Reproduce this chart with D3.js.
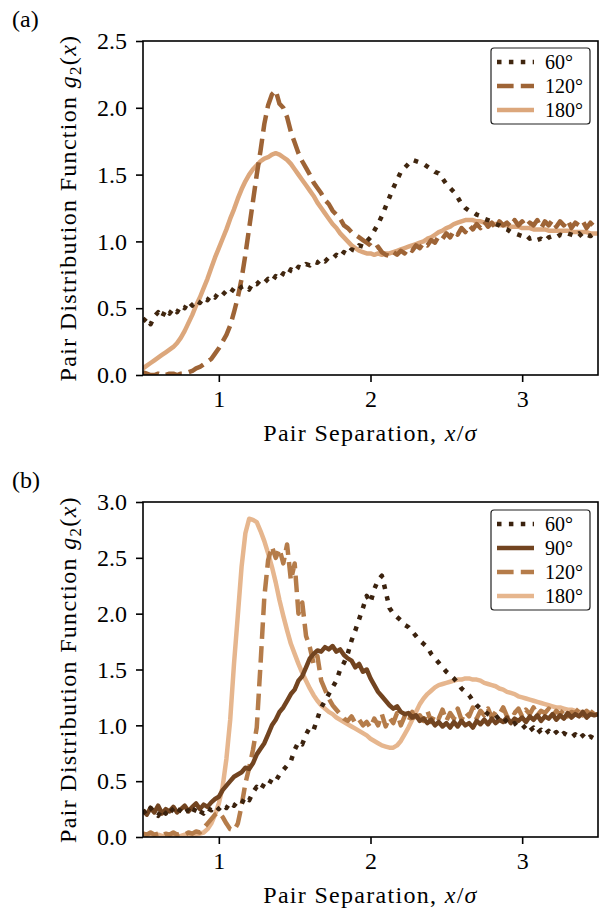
<!DOCTYPE html>
<html>
<head>
<meta charset="utf-8">
<script src="https://cdn.jsdelivr.net/npm/d3@7"></script>
<style>
  body { margin: 0; background: #fff; }
  text { font-family: "Liberation Serif", "Times New Roman", serif; fill: #000; }
</style>
</head>
<body>
<svg id="fig" width="601" height="911"></svg>
<script>
// every trace is sampled on the same grid, x/sigma = 0.5 ... 3.5, step 0.025
const sep = d3.range(121).map(i => 0.5 + 0.025 * i);

// panel (a)
const a60 = [
  0.40,0.43,0.38,0.44,0.47,0.43,0.49,0.46,0.50,0.47,
  0.52,0.50,0.55,0.52,0.56,0.54,0.58,0.56,0.60,0.58,
  0.62,0.60,0.63,0.61,0.65,0.63,0.66,0.67,0.64,0.69,
  0.68,0.71,0.69,0.72,0.70,0.74,0.72,0.76,0.74,0.79,
  0.77,0.81,0.80,0.83,0.82,0.85,0.84,0.87,0.85,0.88,
  0.87,0.90,0.88,0.92,0.90,0.94,0.93,0.97,0.96,1.00,
  1.03,1.08,1.13,1.19,1.26,1.33,1.40,1.46,1.52,1.55,
  1.58,1.61,1.60,1.59,1.58,1.56,1.54,1.52,1.51,1.47,
  1.43,1.40,1.37,1.33,1.28,1.25,1.23,1.22,1.20,1.19,
  1.17,1.16,1.15,1.13,1.12,1.10,1.09,1.07,1.06,1.05,
  1.04,1.05,1.02,1.03,1.01,1.02,1.00,1.03,1.04,1.03,
  1.05,1.04,1.06,1.05,1.04,1.06,1.03,1.05,1.04,1.06,
  1.05
];
const a120 = [
  0.02,0.01,0.00,0.00,0.01,0.00,0.00,0.01,0.01,0.00,
  0.01,0.01,0.02,0.03,0.05,0.06,0.08,0.10,0.12,0.16,
  0.20,0.25,0.30,0.37,0.47,0.58,0.72,0.90,1.10,1.30,
  1.50,1.68,1.88,2.02,2.10,2.13,2.03,2.00,1.93,1.82,
  1.74,1.66,1.60,1.55,1.50,1.44,1.40,1.36,1.31,1.28,
  1.23,1.20,1.17,1.12,1.10,1.07,1.05,1.03,1.01,0.99,
  0.97,0.94,0.96,0.92,0.90,0.89,0.92,0.90,0.93,0.91,
  0.95,0.93,0.97,0.95,0.99,0.97,1.01,0.99,1.04,1.02,
  1.06,1.03,1.08,1.05,1.10,1.07,1.12,1.09,1.13,1.10,
  1.15,1.11,1.14,1.10,1.15,1.12,1.14,1.11,1.16,1.12,
  1.15,1.11,1.14,1.12,1.16,1.10,1.15,1.12,1.16,1.11,
  1.15,1.12,1.16,1.10,1.14,1.12,1.15,1.10,1.14,1.11,
  1.13
];
const a180 = [
  0.05,0.07,0.09,0.11,0.13,0.15,0.17,0.19,0.21,0.24,
  0.28,0.33,0.39,0.45,0.52,0.58,0.65,0.72,0.80,0.88,
  0.95,1.02,1.09,1.17,1.24,1.32,1.39,1.45,1.50,1.54,
  1.57,1.60,1.62,1.63,1.65,1.66,1.65,1.63,1.61,1.58,
  1.54,1.50,1.46,1.42,1.38,1.34,1.29,1.25,1.21,1.17,
  1.13,1.10,1.06,1.03,1.00,0.97,0.95,0.93,0.92,0.91,
  0.91,0.90,0.91,0.90,0.91,0.91,0.92,0.93,0.94,0.95,
  0.96,0.97,0.98,0.99,1.00,1.02,1.03,1.05,1.07,1.08,
  1.10,1.11,1.13,1.14,1.15,1.16,1.16,1.16,1.15,1.15,
  1.14,1.14,1.13,1.13,1.12,1.12,1.12,1.11,1.11,1.11,
  1.10,1.10,1.10,1.09,1.09,1.09,1.09,1.08,1.08,1.08,
  1.08,1.08,1.08,1.07,1.07,1.07,1.07,1.07,1.06,1.06,
  1.06
];

// panel (b)
const b60 = [
  0.24,0.20,0.26,0.22,0.19,0.25,0.21,0.27,0.23,0.20,
  0.26,0.22,0.24,0.20,0.27,0.23,0.21,0.26,0.24,0.28,
  0.25,0.29,0.26,0.31,0.28,0.32,0.30,0.36,0.33,0.40,
  0.45,0.42,0.48,0.46,0.52,0.50,0.56,0.60,0.64,0.68,
  0.78,0.85,0.83,0.92,0.98,0.96,1.06,1.16,1.22,1.28,
  1.34,1.40,1.50,1.56,1.64,1.76,1.85,1.95,2.05,2.16,
  2.10,2.22,2.30,2.34,2.20,2.05,2.00,1.97,1.94,1.90,
  1.88,1.84,1.80,1.76,1.73,1.70,1.64,1.60,1.56,1.52,
  1.48,1.45,1.42,1.38,1.33,1.30,1.27,1.22,1.18,1.15,
  1.13,1.10,1.08,1.09,1.05,1.07,1.03,1.00,1.02,0.98,
  0.97,1.00,0.95,0.98,0.93,0.96,0.92,0.95,0.91,0.94,
  0.90,0.93,0.91,0.89,0.92,0.88,0.91,0.87,0.90,0.88,
  0.89
];
const b90 = [
  0.24,0.20,0.26,0.22,0.28,0.21,0.25,0.23,0.27,0.22,
  0.25,0.28,0.23,0.27,0.30,0.25,0.29,0.27,0.31,0.34,
  0.36,0.42,0.46,0.50,0.54,0.56,0.58,0.62,0.61,0.66,
  0.74,0.79,0.84,0.92,1.00,1.05,1.12,1.16,1.22,1.28,
  1.32,1.40,1.44,1.52,1.60,1.64,1.67,1.66,1.70,1.68,
  1.71,1.66,1.68,1.63,1.60,1.58,1.52,1.55,1.48,1.50,
  1.42,1.36,1.30,1.26,1.22,1.18,1.15,1.17,1.12,1.10,
  1.11,1.07,1.09,1.04,1.06,1.02,1.05,1.00,1.03,0.99,
  1.02,0.98,1.03,0.99,1.04,1.00,1.02,0.98,1.04,1.01,
  1.05,1.01,1.06,1.02,1.05,1.03,1.07,1.02,1.06,1.04,
  1.07,1.03,1.08,1.05,1.09,1.04,1.08,1.06,1.10,1.05,
  1.09,1.06,1.11,1.07,1.10,1.08,1.12,1.07,1.10,1.09,
  1.10
];
const b120 = [
  0.03,0.02,0.04,0.02,0.03,0.01,0.03,0.02,0.04,0.02,
  0.03,0.02,0.04,0.03,0.05,0.04,0.08,0.12,0.16,0.20,
  0.22,0.18,0.12,0.07,0.06,0.12,0.28,0.48,0.62,0.78,
  0.98,1.55,2.15,2.48,2.60,2.50,2.58,2.45,2.62,2.30,
  2.45,2.00,2.10,1.80,1.70,1.55,1.62,1.40,1.32,1.24,
  1.18,1.14,1.10,1.06,1.04,1.08,1.02,1.05,1.00,1.03,
  0.98,1.06,1.00,1.10,0.99,1.07,1.02,1.11,1.00,1.08,
  1.03,1.12,1.02,1.09,1.04,1.13,1.03,1.10,1.06,1.14,
  1.04,1.11,1.06,1.15,1.05,1.12,1.08,1.16,1.06,1.13,
  1.09,1.15,1.07,1.12,1.10,1.16,1.08,1.13,1.11,1.15,
  1.08,1.14,1.10,1.16,1.09,1.13,1.11,1.15,1.08,1.13,
  1.10,1.14,1.08,1.12,1.11,1.15,1.09,1.13,1.10,1.14,
  1.12
];
const b180 = [
  0.03,0.02,0.02,0.01,0.02,0.01,0.01,0.02,0.01,0.01,
  0.01,0.02,0.01,0.02,0.02,0.03,0.04,0.07,0.12,0.20,
  0.30,0.45,0.70,1.05,1.55,1.98,2.42,2.72,2.85,2.84,
  2.82,2.74,2.65,2.54,2.42,2.28,2.12,1.98,1.85,1.73,
  1.64,1.55,1.47,1.40,1.33,1.27,1.22,1.18,1.15,1.12,
  1.10,1.07,1.05,1.03,1.01,0.99,0.97,0.95,0.93,0.91,
  0.88,0.86,0.84,0.82,0.81,0.80,0.80,0.82,0.86,0.92,
  0.98,1.05,1.12,1.19,1.24,1.28,1.31,1.34,1.36,1.37,
  1.38,1.39,1.40,1.41,1.41,1.42,1.42,1.41,1.41,1.40,
  1.38,1.37,1.36,1.35,1.33,1.32,1.30,1.29,1.28,1.26,
  1.25,1.24,1.23,1.22,1.21,1.20,1.19,1.18,1.17,1.16,
  1.16,1.15,1.14,1.14,1.13,1.12,1.12,1.11,1.11,1.10,
  1.10
];

const xTicks = [1, 2, 3];
const yTicksA = [0, 0.5, 1.0, 1.5, 2.0, 2.5];
const yTicksB = [0, 0.5, 1.0, 1.5, 2.0, 2.5, 3.0];

const DOT = "4.5,7.4", DASH = "16.6,7.2";
const FONT = '"Liberation Serif", "Times New Roman", serif';

const panels = [
  {
    tag: "(a)", top: 41, bottom: 375, yMax: 2.5, yTicks: yTicksA,
    legendTop: 48,
    series: [
      { label: "60", values: a60, color: "#40260f", dash: DOT },
      { label: "120", values: a120, color: "#9e6436", dash: DASH },
      { label: "180", values: a180, color: "#dca77c", dash: null }
    ]
  },
  {
    tag: "(b)", top: 502, bottom: 837, yMax: 3.0, yTicks: yTicksB,
    legendTop: 510,
    series: [
      { label: "60", values: b60, color: "#3b220e", dash: DOT },
      { label: "90", values: b90, color: "#724420", dash: null },
      { label: "120", values: b120, color: "#b57c4a", dash: DASH },
      { label: "180", values: b180, color: "#e6b68e", dash: null }
    ]
  }
];

const svg = d3.select("#fig");
const left = 143, right = 598;
const x = d3.scaleLinear().domain([0.5, 3.5]).range([left, right]);

panels.forEach((p, pi) => {
  const y = d3.scaleLinear().domain([0, p.yMax]).range([p.bottom, p.top]);
  const g = svg.append("g");

  const clipId = "clip" + pi;
  g.append("clipPath").attr("id", clipId)
    .append("rect")
    .attr("x", left).attr("y", p.top)
    .attr("width", right - left).attr("height", p.bottom - p.top);

  const line = d3.line()
    .x((d, i) => x(sep[i]))
    .y(d => y(d));

  // back to front: lightest first, darkest on top
  const plotG = g.append("g").attr("clip-path", `url(#${clipId})`);
  p.series.slice().reverse().forEach(s => {
    plotG.append("path")
      .attr("d", line(s.values))
      .attr("fill", "none")
      .attr("stroke", s.color)
      .attr("stroke-width", 4.5)
      .attr("stroke-dasharray", s.dash)
      .attr("stroke-linejoin", "round");
  });

  // axes
  const xAxis = d3.axisBottom(x).tickValues(xTicks).tickFormat(d3.format("d"))
    .tickSize(7).tickPadding(8);
  const yAxis = d3.axisLeft(y).tickValues(p.yTicks).tickFormat(d3.format(".1f"))
    .tickSize(7).tickPadding(9);

  const gx = g.append("g").attr("transform", `translate(0,${p.bottom})`).call(xAxis);
  const gy = g.append("g").attr("transform", `translate(${left},0)`).call(yAxis);
  [gx, gy].forEach(ax => {
    ax.attr("font-family", null);
    ax.select(".domain").remove();
    ax.selectAll("line").attr("stroke", "#000").attr("stroke-width", 1.6);
    ax.selectAll("text").attr("font-size", 24).style("font-family", FONT);
  });

  g.append("rect")
    .attr("x", left).attr("y", p.top)
    .attr("width", right - left).attr("height", p.bottom - p.top)
    .attr("fill", "none").attr("stroke", "#000").attr("stroke-width", 1.6);

  // x label
  const xl = g.append("text")
    .attr("x", (left + right) / 2).attr("y", p.bottom + 66)
    .attr("text-anchor", "middle").attr("font-size", 24)
    .attr("letter-spacing", 1.3);
  xl.append("tspan").text("Pair Separation, ");
  xl.append("tspan").attr("font-style", "italic").text("x");
  xl.append("tspan").text("/");
  xl.append("tspan").attr("font-style", "italic").text("σ");

  // y label
  const cy = (p.top + p.bottom) / 2;
  const yl = g.append("text")
    .attr("transform", `translate(76,${cy}) rotate(-90)`)
    .attr("text-anchor", "middle").attr("font-size", 24)
    .attr("letter-spacing", 1.3);
  yl.append("tspan").text("Pair Distribution Function ");
  yl.append("tspan").attr("font-style", "italic").text("g");
  yl.append("tspan").attr("font-size", 17).attr("dy", 5).text("2");
  yl.append("tspan").attr("dy", -5).text("(");
  yl.append("tspan").attr("font-style", "italic").text("x");
  yl.append("tspan").text(")");

  // panel tag
  g.append("text").attr("x", 12).attr("y", p.top - 14)
    .attr("font-size", 24).text(p.tag);

  // legend
  const rowH = 24;
  const boxH = 14 + rowH * (p.series.length - 1) + 14;
  const lg = g.append("g");
  lg.append("rect")
    .attr("x", 491).attr("y", p.legendTop)
    .attr("width", 99).attr("height", boxH)
    .attr("rx", 3).attr("fill", "#fff")
    .attr("stroke", "#222").attr("stroke-width", 1.2);
  p.series.forEach((s, i) => {
    const ry = p.legendTop + 14 + i * rowH;
    lg.append("line")
      .attr("x1", 497).attr("x2", 534).attr("y1", ry).attr("y2", ry)
      .attr("stroke", s.color).attr("stroke-width", 4.5)
      .attr("stroke-dasharray", s.dash);
    lg.append("text")
      .attr("x", 545).attr("y", ry).attr("dy", "0.35em")
      .attr("font-size", 20).text(s.label + "°");
  });
});
</script>
</body>
</html>
